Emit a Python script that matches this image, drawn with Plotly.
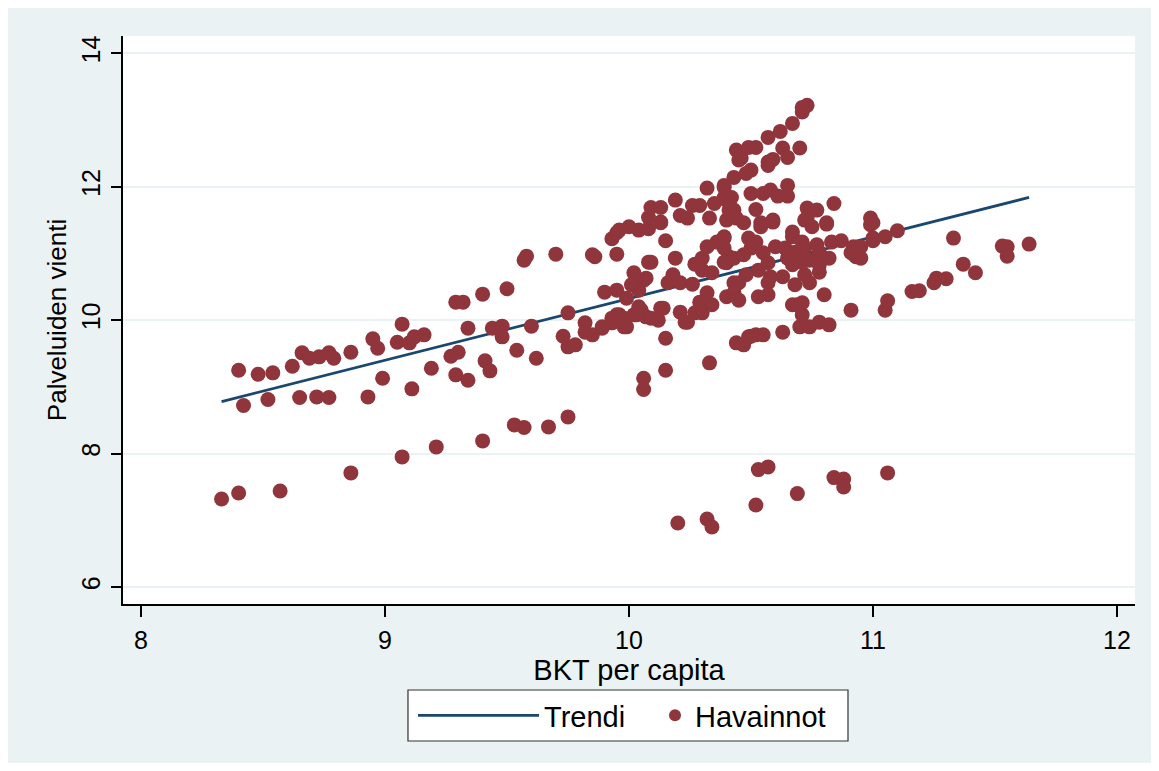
import plotly.graph_objects as go

# Observations: BKT per capita (x) vs Palveluiden vienti (y)
obs_x = [
    8.33, 8.40, 8.57, 8.40, 8.42, 8.48, 8.54, 8.52, 8.62, 8.66, 8.69, 8.73, 8.77, 8.79, 8.86,
    8.65, 8.72, 8.77, 8.86, 8.95, 8.97, 8.93, 8.99, 9.07, 9.05, 9.10, 9.12, 9.16, 9.11, 9.19,
    9.07, 9.21, 9.27, 9.30, 9.29, 9.34, 9.29, 9.32, 9.34, 9.40, 9.40, 9.41, 9.43, 9.44, 9.48,
    9.48, 9.50, 9.54, 9.53, 9.57, 9.57, 9.58, 9.60, 9.62, 9.67, 9.70, 9.75, 9.75, 9.73, 9.75,
    9.78, 9.82, 9.82, 9.85, 9.86, 9.85, 9.89, 9.93, 9.96, 9.99, 10.02, 10.05, 10.07, 9.90, 9.95,
    9.99, 10.02, 10.02, 10.06, 10.04, 10.08, 10.06, 10.06, 9.95, 9.93, 9.95, 10.00, 10.04, 10.08, 10.13,
    10.08, 10.15, 10.09, 10.19, 10.07, 10.01, 10.18, 10.16, 10.21, 10.26, 10.27, 10.30, 10.32, 10.36, 10.39,
    10.40, 10.34, 10.30, 10.32, 10.29, 10.34, 10.40, 10.43, 10.04, 9.95, 9.98, 9.93, 10.03, 10.09, 10.13,
    10.12, 10.21, 10.24, 10.27, 10.30, 9.89, 10.15, 10.44, 10.15, 10.33, 10.47, 10.49, 10.52, 10.55, 10.63,
    10.70, 10.74, 10.78, 10.82, 10.71, 10.69, 10.91, 11.05, 11.06, 10.53, 10.57, 10.52, 10.69, 10.84, 10.88,
    10.88, 11.06, 10.20, 10.32, 10.34, 10.23, 10.14, 9.98, 10.44, 10.45, 10.43, 10.32, 10.39, 10.19, 10.26,
    10.29, 10.35, 10.39, 10.42, 10.09, 10.13, 10.21, 10.24, 10.13, 9.96, 10.33, 10.40, 10.43, 10.73, 10.71,
    10.71, 10.67, 10.62, 10.57, 10.70, 10.63, 10.65, 10.59, 10.57, 10.57, 10.52, 10.49, 10.46, 10.50, 10.48,
    10.39, 10.65, 10.50, 10.58, 10.55, 10.61, 10.65, 10.52, 10.73, 10.77, 10.84, 10.59, 10.54, 10.73, 10.81,
    10.99, 10.99, 10.40, 10.41, 10.44, 10.47, 10.39, 10.39, 10.41, 10.39, 10.43, 10.47, 10.49, 10.52, 10.50,
    10.54, 10.59, 10.72, 10.75, 10.81, 10.67, 10.67, 10.71, 10.60, 10.64, 10.68, 10.72, 10.77, 10.78, 10.83,
    10.87, 10.92, 10.93, 11.00, 11.00, 10.55, 10.57, 10.65, 10.67, 10.71, 10.74, 10.78, 10.82, 10.53, 10.58,
    10.63, 10.57, 10.48, 10.45, 10.43, 10.45, 10.68, 10.72, 10.78, 10.74, 10.53, 10.57, 10.80, 10.67, 10.71,
    10.50, 11.10, 11.05, 11.33, 11.53, 11.55, 11.55, 11.64, 11.37, 11.42, 11.26, 11.30, 11.25, 11.16, 11.19,
    10.95, 10.95, 10.91, 11.00,
]
obs_y = [
    7.32, 7.41, 7.44, 9.25, 8.72, 9.19, 9.21, 8.81, 9.31, 9.51, 9.43, 9.45, 9.51, 9.43, 9.52,
    8.84, 8.85, 8.84, 7.71, 9.72, 9.58, 8.85, 9.13, 9.94, 9.67, 9.66, 9.75, 9.78, 8.97, 9.28,
    7.95, 8.10, 9.46, 9.52, 9.18, 9.10, 10.27, 10.27, 9.88, 10.39, 8.19, 9.39, 9.24, 9.88, 9.91,
    9.75, 10.47, 9.55, 8.43, 8.39, 10.90, 10.96, 9.91, 9.43, 8.40, 10.99, 8.55, 10.11, 9.76, 9.60,
    9.63, 9.96, 9.82, 9.78, 10.95, 10.98, 9.90, 10.03, 10.08, 9.90, 10.08, 10.15, 10.05, 10.42, 10.45,
    10.33, 10.71, 10.56, 10.60, 10.45, 10.87, 9.13, 8.96, 10.99, 11.22, 11.31, 11.40, 11.35, 11.37, 11.47,
    11.54, 11.19, 10.87, 10.93, 10.63, 10.53, 10.68, 10.56, 10.56, 10.54, 10.84, 10.93, 11.10, 11.17, 11.25,
    10.86, 10.71, 10.75, 10.41, 10.27, 10.23, 10.35, 10.56, 10.20, 10.08, 10.03, 9.96, 10.08, 10.03, 10.18,
    10.00, 10.12, 9.97, 10.11, 10.11, 9.88, 9.73, 9.66, 9.25, 9.36, 9.63, 9.75, 9.78, 9.78, 9.82,
    9.90, 9.90, 9.97, 9.93, 10.08, 10.23, 10.15, 10.15, 10.29, 7.76, 7.80, 7.23, 7.40, 7.64, 7.62,
    7.50, 7.71, 6.96, 7.02, 6.90, 9.97, 10.18, 9.90, 12.55, 12.40, 12.14, 11.98, 12.02, 11.80, 11.72,
    11.72, 11.75, 11.84, 11.84, 11.69, 11.69, 11.57, 11.53, 11.46, 11.35, 11.53, 11.50, 11.65, 13.22, 13.19,
    13.12, 12.95, 12.83, 12.74, 12.58, 12.58, 12.44, 12.41, 12.37, 12.32, 12.59, 12.59, 12.43, 12.25, 12.20,
    11.99, 12.02, 11.90, 11.95, 11.90, 11.86, 11.86, 11.66, 11.68, 11.65, 11.75, 11.50, 11.46, 11.53, 11.46,
    11.53, 11.43, 11.80, 11.65, 11.53, 11.46, 11.23, 11.08, 10.95, 10.87, 10.93, 10.98, 11.23, 11.17, 11.08,
    11.40, 11.47, 11.50, 11.40, 11.44, 11.32, 11.25, 11.17, 11.10, 11.08, 11.02, 11.08, 11.13, 11.02, 11.17,
    11.19, 11.10, 10.95, 11.46, 11.23, 11.01, 10.86, 10.93, 10.83, 10.87, 10.90, 10.83, 10.93, 10.75, 10.65,
    10.65, 10.56, 10.68, 10.56, 10.41, 10.30, 10.53, 10.68, 10.72, 10.56, 10.35, 10.38, 10.38, 10.23, 10.26,
    9.76, 11.34, 11.25, 11.23, 11.11, 11.10, 10.96, 11.14, 10.84, 10.71, 10.63, 10.62, 10.56, 10.43, 10.44,
    11.10, 10.93, 11.01, 11.19,
]

# Fitted trend line end points
trend_x = [8.33, 11.64]
trend_y = [8.78, 11.84]

x_ticks = [8, 9, 10, 11, 12]
y_ticks = [6, 8, 10, 12, 14]

NAVY = "#1A476F"
MAROON = "#90353B"
BG = "#EAF2F3"
FONT = "Liberation Sans, Arial, sans-serif"

fig = go.Figure()
fig.add_trace(go.Scatter(
    x=trend_x, y=trend_y, mode="lines", name="Trendi",
    line=dict(color=NAVY, width=2.8), legend="legend",
))
fig.add_trace(go.Scatter(
    x=obs_x, y=obs_y, mode="markers", name="Havainnot",
    marker=dict(color=MAROON, size=15, line=dict(width=0)), legend="legend2",
))

leg_common = dict(
    orientation="h", yanchor="middle", y=-0.1963, xanchor="left",
    bgcolor="rgba(0,0,0,0)", borderwidth=0,
    font=dict(size=29, family=FONT),
)

fig.update_layout(
    width=1143, height=755,
    margin=dict(l=115, r=16, t=28, b=159),
    paper_bgcolor=BG, plot_bgcolor="white",
    font=dict(family=FONT, color="black", size=24),
    showlegend=True,
    legend=dict(x=0.2866, itemwidth=121, **leg_common),
    legend2=dict(x=0.5257, itemwidth=30, itemsizing="constant", **leg_common),
    shapes=[dict(
        type="rect", xref="paper", yref="paper",
        x0=0.2816, x1=0.7164, y0=-0.2412, y1=-0.1514,
        fillcolor="white", line=dict(color="#333333", width=1.2), layer="below",
    )],
    xaxis=dict(
        range=[7.926, 12.074], tickvals=x_ticks, ticktext=[str(v) for v in x_ticks],
        showgrid=False, zeroline=False, showline=True, linecolor="black", linewidth=1.5,
        ticks="outside", ticklen=11, tickwidth=1.5, tickcolor="black",
        tickfont=dict(size=25), ticklabelstandoff=2,
        title=dict(text="BKT per capita", font=dict(size=29), standoff=0),
    ),
    yaxis=dict(
        range=[5.745, 14.26], tickvals=y_ticks, ticktext=[str(v) for v in y_ticks],
        showgrid=True, gridcolor=BG, gridwidth=2, zeroline=False,
        showline=True, linecolor="black", linewidth=1.5,
        ticks="outside", ticklen=10, tickwidth=1.5, tickcolor="black",
        tickangle=-90, tickfont=dict(size=25), ticklabelstandoff=1,
        title=dict(text="Palveluiden vienti", font=dict(size=26), standoff=3),
    ),
)

fig.write_html("out.html")
